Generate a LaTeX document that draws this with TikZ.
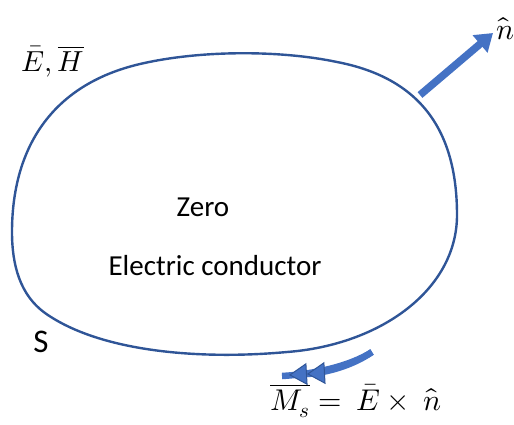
\documentclass[tikz,border=0pt]{standalone}
\usepackage{amsmath}
\usepackage{fontspec}
\usepackage{unicode-math}
\setmainfont{Carlito}
\setmathfont{Latin Modern Math}
\usepackage{tikz}
\usetikzlibrary{arrows.meta, positioning, calc}
\definecolor{surfblue}{RGB}{47, 85, 151}
\definecolor{arrowblue}{RGB}{68, 114, 196}

\begin{document}
\begin{tikzpicture}[x=1pt, y=-1pt]
        \useasboundingbox (0,0) rectangle (514,424);
        % conductor surface S
        \draw[surfblue, line width=2.4pt] (12,232) .. controls (12,150) and (50,85) .. (140,64)
            .. controls (200,50) and (280,50) .. (337,62)
            .. controls (420,78) and (457,130) .. (457,215)
            .. controls (457,290) and (380,345) .. (287,352)
            .. controls (200,360) and (100,352) .. (45,313)
            .. controls (20,295) and (12,265) .. cycle;

        \node[font=\fontsize{29}{34}\selectfont] (zero) at (203,207) {Zero};
        \node[font=\fontsize{29}{34}\selectfont] (cond) at (215,266) {Electric conductor};
        \node[font=\fontsize{33}{38}\selectfont] (S) at (41,342) {S};
        \node[font=\fontsize{29}{34}\selectfont] (EH) at (53,61) {$\bar{E},\overline{H}$};

        % normal vector
        \coordinate (p) at (420,95);
        \node[font=\fontsize{30}{34}\selectfont] (n) at (505,29) {$\hat{n}$};
        \draw[arrowblue, line width=7.5pt, -{Triangle[length=17pt, width=22pt]}] (p) -- (493,33);

        % magnetic surface current
        \node[font=\fontsize{30}{34}\selectfont] (Ms) at (356,401) {$\overline{M_s} =\ \bar{E}\times\ \hat{n}$};
        \coordinate (a) at (372,352);
        \coordinate (b) at (282,376);
        \draw[arrowblue, line width=6.5pt] (a) .. controls (350,366) and (315,374) .. (b);
        \draw[arrowblue, line width=6.5pt, -{Triangle[length=18pt, width=22pt, fill=arrowblue, color=surfblue, line width=1pt] Triangle[length=18pt, width=22pt, fill=arrowblue, color=surfblue, line width=1pt]}]
            (a) .. controls (352,366) and (325,373) .. (289,375);
\end{tikzpicture}
\end{document}
